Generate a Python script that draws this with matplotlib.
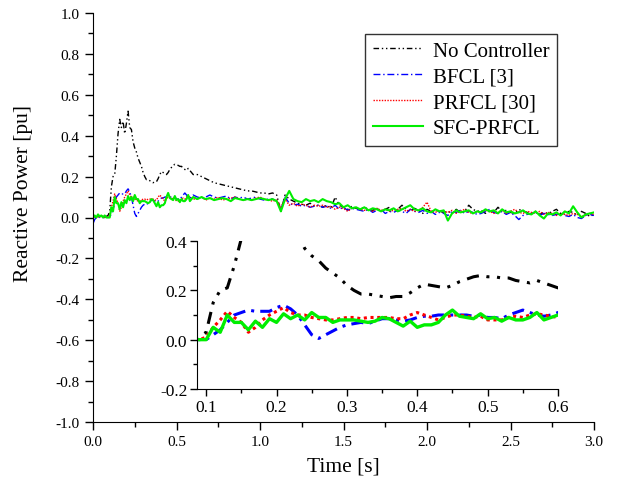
import numpy as np
import matplotlib
matplotlib.use("Agg")
import matplotlib.pyplot as plt
from matplotlib.ticker import MultipleLocator, FormatStrFormatter

plt.rcParams['font.family'] = ['Liberation Serif', 'DejaVu Serif']

# ---- data (time in s, reactive power in pu) ----
t_fine = np.round(np.arange(0.0, 0.6001, 0.01), 3)      # 0.00 .. 0.60
t_coarse = np.round(np.arange(0.625, 3.0001, 0.025), 3)  # 0.625 .. 3.00

no_ctrl_fine = [0.00, 0.005, 0.00, 0.01, 0.005, 0.01, 0.00, 0.01, 0.005, 0.01,
                0.03, 0.15, 0.20, 0.21, 0.30, 0.41, 0.48, 0.44, 0.47, 0.41,
                0.46, 0.52, 0.44, 0.43, 0.37, 0.34, 0.32, 0.29, 0.27, 0.25,
                0.22, 0.20, 0.185, 0.185, 0.18, 0.175, 0.17, 0.175, 0.175, 0.19,
                0.21, 0.225, 0.22, 0.215, 0.21, 0.22, 0.235, 0.245, 0.255, 0.26,
                0.255, 0.255, 0.25, 0.25, 0.24, 0.235, 0.23, 0.24, 0.23, 0.22,
                0.21]
no_ctrl_coarse = [0.21, 0.20, 0.19, 0.18, 0.17, 0.165, 0.16, 0.155, 0.15, 0.145,
                  0.14, 0.135, 0.13, 0.13, 0.125, 0.12, 0.12, 0.115, 0.12, 0.11,
                  0.03, 0.11, 0.09, 0.08, 0.07, 0.065, 0.06, 0.07, 0.055, 0.06,
                  0.05, 0.06, 0.045, 0.10, 0.06, 0.05, 0.04, 0.055, 0.045, 0.04,
                  0.05, 0.04, 0.035, 0.045, 0.03, 0.04, 0.05, 0.035, 0.04, 0.06,
                  0.04, 0.03, 0.045, 0.035, 0.02, 0.04, 0.03, 0.035, 0.03, 0.025,
                  0.03, 0.02, 0.04, 0.025, 0.03, 0.06, 0.04, 0.03, 0.035, 0.02,
                  0.03, 0.025, 0.05, 0.03, 0.035, 0.025, 0.02, 0.04, 0.03, 0.025,
                  0.02, 0.03, 0.015, 0.025, 0.02, 0.03, 0.04, 0.02, 0.015, 0.03,
                  0.025, 0.01, 0.03, 0.02, 0.005, 0.015]

bfcl_fine = [-0.03, -0.01, 0.00, 0.005, 0.00, 0.005, 0.00, 0.00, 0.005, 0.00,
             0.00, 0.02, 0.04, 0.07, 0.10, 0.11, 0.12, 0.115, 0.115, 0.115,
             0.13, 0.14, 0.125, 0.10, 0.06, 0.02, 0.005, 0.02, 0.035, 0.05,
             0.06, 0.065, 0.07, 0.065, 0.075, 0.085, 0.085, 0.08, 0.075, 0.08,
             0.09, 0.095, 0.095, 0.10, 0.10, 0.10, 0.10, 0.10, 0.095, 0.10,
             0.09, 0.09, 0.085, 0.10, 0.11, 0.12, 0.11, 0.10, 0.095, 0.10,
             0.11]
bfcl_coarse = [0.10, 0.095, 0.10, 0.11, 0.10, 0.095, 0.10, 0.105, 0.09, 0.10,
               0.095, 0.10, 0.09, 0.095, 0.10, 0.09, 0.085, 0.09, 0.09, 0.08,
               0.04, 0.10, 0.07, 0.06, 0.065, 0.055, 0.06, 0.05, 0.055, 0.06,
               0.05, 0.055, 0.045, 0.06, 0.04, 0.05, 0.035, 0.045, 0.04, 0.035,
               0.03, 0.04, 0.025, 0.035, 0.04, 0.02, 0.03, 0.025, 0.035, 0.03,
               0.02, 0.04, 0.03, 0.025, 0.035, 0.02, 0.03, 0.015, 0.025, 0.02,
               0.01, 0.03, 0.025, 0.035, 0.02, 0.03, 0.025, 0.015, 0.02, 0.03,
               0.04, 0.025, 0.02, 0.03, 0.015, 0.025, 0.01, -0.01, 0.01, 0.015,
               0.02, 0.025, 0.01, 0.02, 0.015, 0.01, 0.015, 0.02, 0.01, 0.005,
               0.015, 0.0, -0.005, 0.01, 0.015, 0.01]

prfcl_fine = [0.00, 0.005, 0.00, 0.005, 0.00, 0.01, 0.005, 0.00, 0.005, 0.00,
              0.01, 0.05, 0.08, 0.115, 0.09, 0.07, 0.03, 0.05, 0.08, 0.10,
              0.115, 0.13, 0.11, 0.10, 0.10, 0.09, 0.085, 0.08, 0.08, 0.085,
              0.09, 0.09, 0.085, 0.09, 0.09, 0.09, 0.09, 0.085, 0.085, 0.10,
              0.11, 0.10, 0.09, 0.08, 0.09, 0.10, 0.10, 0.095, 0.09, 0.095,
              0.08, 0.08, 0.08, 0.09, 0.095, 0.09, 0.10, 0.105, 0.10, 0.095,
              0.09]
prfcl_coarse = [0.09, 0.10, 0.085, 0.095, 0.09, 0.10, 0.085, 0.09, 0.095, 0.10,
                0.09, 0.085, 0.09, 0.085, 0.095, 0.10, 0.09, 0.085, 0.08, 0.085,
                0.05, 0.09, 0.06, 0.07, 0.055, 0.065, 0.06, 0.05, 0.06, 0.055,
                0.06, 0.05, 0.055, 0.04, 0.05, 0.045, 0.03, 0.045, 0.05, 0.04,
                0.035, 0.04, 0.03, 0.045, 0.035, 0.04, 0.03, 0.035, 0.04, 0.045,
                0.03, 0.04, 0.03, 0.035, 0.05, 0.075, 0.03, 0.025, 0.035, 0.03,
                0.025, 0.035, 0.02, 0.03, 0.04, 0.025, 0.02, 0.03, 0.025, 0.035,
                0.03, 0.02, 0.025, 0.035, 0.02, 0.03, 0.04, 0.025, 0.02, 0.03,
                0.025, 0.02, 0.03, 0.015, 0.025, 0.02, 0.01, 0.02, 0.015, 0.01,
                0.02, 0.015, 0.005, 0.01, 0.02, 0.015]

sfc_fine = [0.00, 0.01, 0.00, 0.015, 0.005, 0.01, 0.00, 0.01, 0.00, 0.00,
            0.00, 0.05, 0.03, 0.10, 0.07, 0.07, 0.04, 0.075, 0.05, 0.085,
            0.07, 0.105, 0.085, 0.10, 0.08, 0.11, 0.09, 0.09, 0.07, 0.08,
            0.08, 0.08, 0.075, 0.07, 0.075, 0.09, 0.085, 0.07, 0.055, 0.075,
            0.05, 0.06, 0.06, 0.07, 0.10, 0.12, 0.095, 0.09, 0.085, 0.105,
            0.085, 0.09, 0.075, 0.09, 0.08, 0.08, 0.09, 0.11, 0.08, 0.09,
            0.10]
sfc_coarse = [0.09, 0.10, 0.09, 0.095, 0.085, 0.09, 0.095, 0.09, 0.08, 0.095,
              0.09, 0.085, 0.09, 0.085, 0.09, 0.095, 0.09, 0.085, 0.09, 0.08,
              0.03, 0.09, 0.13, 0.09, 0.08, 0.075, 0.09, 0.08, 0.085, 0.075,
              0.09, 0.08, 0.075, 0.065, 0.07, 0.05, 0.06, 0.045, 0.05, 0.04,
              0.05, 0.035, 0.045, 0.04, 0.03, 0.04, 0.035, 0.045, 0.03, 0.04,
              0.05, 0.06, 0.04, 0.035, 0.045, 0.03, 0.025, 0.04, 0.03, 0.035,
              -0.015, 0.02, 0.035, 0.025, 0.03, 0.035, 0.02, 0.03, 0.025, 0.04,
              0.03, 0.035, 0.02, 0.04, 0.025, 0.03, 0.02, 0.025, 0.035, 0.02,
              0.015, 0.03, 0.01, -0.005, 0.02, 0.015, 0.025, 0.01, 0.03, 0.02,
              0.055, 0.025, 0.0, 0.015, 0.02, 0.025]

labels = ["No Controller", "BFCL [3]", "PRFCL [30]", "SFC-PRFCL"]

t = np.concatenate([t_fine, t_coarse])
series = [np.array(no_ctrl_fine + no_ctrl_coarse),
          np.array(bfcl_fine + bfcl_coarse),
          np.array(prfcl_fine + prfcl_coarse),
          np.array(sfc_fine + sfc_coarse)]

colors = ["black", "#0000ff", "#ff0000", "#00ee00"]
styles = [(0, (4, 2, 1, 2, 1, 2)), (0, (5, 2, 1, 2)), (0, (1, 1)), "-"]
widths = [1.0, 1.0, 1.0, 1.5]
inset_widths = [2.2, 2.2, 2.2, 2.4]
inset_styles = [(0, (4, 2.5, 1, 2.5, 1, 2.5)), (0, (4, 2, 1, 2)), (0, (1, 1.2)), "-"]

fig = plt.figure(figsize=(6.25, 4.89), dpi=100)
ax = fig.add_axes([93/625, 1-423/489, 501/625, 409/489])

for y, c, ls, lw, lab in zip(series, colors, styles, widths, labels):
    ax.plot(t, y, color=c, linestyle=ls, linewidth=lw, label=lab)

ax.set_xlim(0, 3.0)
ax.set_ylim(-1.0, 1.0)
ax.xaxis.set_major_locator(MultipleLocator(0.5))
ax.xaxis.set_minor_locator(MultipleLocator(0.25))
ax.yaxis.set_major_locator(MultipleLocator(0.2))
ax.yaxis.set_minor_locator(MultipleLocator(0.1))
ax.xaxis.set_major_formatter(FormatStrFormatter('%.1f'))
ax.yaxis.set_major_formatter(FormatStrFormatter('%.1f'))
for s in ['top', 'right']:
    ax.spines[s].set_visible(False)
ax.tick_params(which='major', direction='out', length=6, width=1, labelsize=11)
ax.tick_params(which='minor', direction='out', length=3.5, width=1)
ax.set_xlabel("Time [s]", fontsize=15.5, labelpad=6)
ax.set_ylabel("Reactive Power [pu]", fontsize=15.5)
ax.yaxis.set_label_coords(-0.119, 0.561)

leg = ax.legend(loc='upper right', bbox_to_anchor=(0.926, 0.949), fontsize=15,
                frameon=True, fancybox=False, edgecolor='black', handlelength=2.4,
                borderpad=0.35, labelspacing=0.3, handletextpad=0.5,
                borderaxespad=0.0)
leg.get_frame().set_linewidth(1.0)

# ---- inset ----
axi = fig.add_axes([197/625, 1-390/489, 361/625, 148/489])
axi.patch.set_alpha(0.0)
for y, c, ls, lw in zip(series, colors, inset_styles, inset_widths):
    axi.plot(t, y, color=c, linestyle=ls, linewidth=lw)
axi.set_xlim(0.087, 0.6)
axi.set_ylim(-0.2, 0.4)
axi.xaxis.set_major_locator(MultipleLocator(0.1))
axi.xaxis.set_minor_locator(MultipleLocator(0.05))
axi.yaxis.set_major_locator(MultipleLocator(0.2))
axi.yaxis.set_minor_locator(MultipleLocator(0.1))
axi.xaxis.set_major_formatter(FormatStrFormatter('%.1f'))
axi.yaxis.set_major_formatter(FormatStrFormatter('%.1f'))
for s in ['top', 'right']:
    axi.spines[s].set_visible(False)
axi.tick_params(which='major', direction='out', length=5, width=1, labelsize=12.5, pad=2)
axi.tick_params(which='minor', direction='out', length=3, width=1)

fig.savefig("out.png", dpi=100)
